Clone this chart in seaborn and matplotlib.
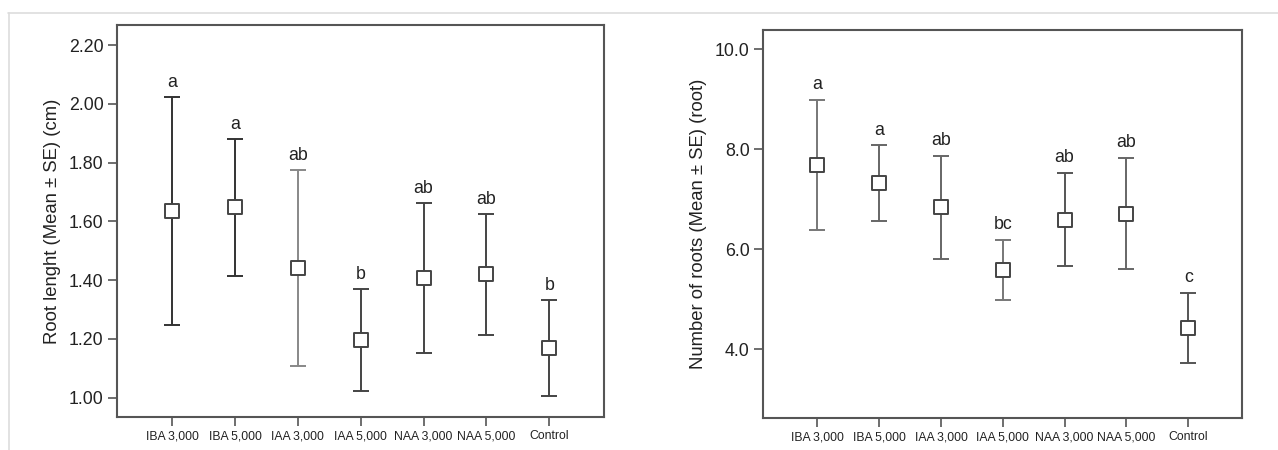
import matplotlib
matplotlib.use("Agg")
import matplotlib.pyplot as plt
import seaborn as sns
import pandas as pd
from matplotlib.lines import Line2D

categories = ["IBA 3,000", "IBA 5,000", "IAA 3,000", "IAA 5,000", "NAA 3,000", "NAA 5,000", "Control"]

len_mean = [1.635, 1.648, 1.440, 1.196, 1.406, 1.420, 1.170]
len_low = [1.247, 1.414, 1.108, 1.024, 1.151, 1.213, 1.007]
len_high = [2.022, 1.880, 1.775, 1.369, 1.661, 1.625, 1.332]
len_letters = ["a", "a", "ab", "b", "ab", "ab", "b"]
len_ticks = [1.00, 1.20, 1.40, 1.60, 1.80, 2.00, 2.20]

num_mean = [7.68, 7.32, 6.84, 5.58, 6.59, 6.71, 4.43]
num_low = [6.38, 6.57, 5.80, 4.98, 5.66, 5.61, 3.73]
num_high = [8.99, 8.08, 7.87, 6.19, 7.53, 7.83, 5.13]
num_letters = ["a", "a", "ab", "bc", "ab", "ab", "c"]
num_ticks = [4.0, 6.0, 8.0, 10.0]

sns.set_style("white")
plt.rcParams["font.family"] = ["Liberation Sans", "DejaVu Sans"]

fig = plt.figure(figsize=(12.78, 4.5), dpi=100)
ax1 = fig.add_axes([0.0915, 0.0733, 0.3811, 0.8711])
ax2 = fig.add_axes([0.597, 0.0711, 0.3748, 0.8622])

# light frame lines
fig.add_artist(Line2D([0.006, 1.0], [0.971, 0.971], transform=fig.transFigure, color="#dddddd", lw=1.2))
fig.add_artist(Line2D([0.007, 0.007], [0.0, 0.971], transform=fig.transFigure, color="#dddddd", lw=1.2))


def panel(ax, mean, low, high, letters, ticks, fmt, ylim, ylabel, bar_colors):
    df = pd.DataFrame({"cat": categories, "mean": mean, "low": low, "high": high})
    for i, r in df.iterrows():
        ax.errorbar([i], [r["mean"]], yerr=[[r["mean"] - r["low"]], [r["high"] - r["mean"]]],
                    fmt="none", ecolor=bar_colors[i], elinewidth=1.4, capsize=5.8, capthick=1.4, zorder=2)
    sns.scatterplot(data=df, x="cat", y="mean", marker="s", s=95, facecolor="white",
                    edgecolor="#444444", linewidth=1.4, ax=ax, zorder=3)
    for i, r in df.iterrows():
        ax.annotate(letters[i], (i, r["high"]), xytext=(0, 4.5), textcoords="offset points",
                    ha="center", va="bottom", fontsize=12.8, color="#222222")
    ax.set_xlim(-0.88, 6.87)
    ax.set_ylim(*ylim)
    ax.set_yticks(ticks)
    ax.set_yticklabels([fmt.format(t) for t in ticks], fontsize=12.8, color="#222222")
    ax.set_xticks(range(len(categories)))
    ax.set_xticklabels([c.replace(" ", "\u2009") for c in categories], fontsize=8.8, color="#222222",
                       family=["Liberation Sans Narrow", "Liberation Sans", "DejaVu Sans"])
    ax.set_xlabel("")
    ax.set_ylabel(ylabel, fontsize=13.3, color="#222222", labelpad=6)
    ax.tick_params(axis="both", direction="out", length=6.5, width=1.2, color="#555555", pad=3,
                   left=True, bottom=True)
    for s in ax.spines.values():
        s.set_color("#555555")
        s.set_linewidth(1.5)
        s.set_visible(True)


panel(ax1, len_mean, len_low, len_high, len_letters, len_ticks, "{:.2f}", (0.934, 2.268),
      "Root lenght (Mean \u00b1 SE) (cm)",
      ["#333333", "#333333", "#888888", "#444444", "#444444", "#444444", "#444444"])
panel(ax2, num_mean, num_low, num_high, num_letters, num_ticks, "{:.1f}", (2.62, 10.38),
      "Number of roots (Mean \u00b1 SE) (root)",
      ["#777777", "#666666", "#666666", "#777777", "#555555", "#666666", "#555555"])

fig.savefig("out.png", dpi=100, facecolor="white")
